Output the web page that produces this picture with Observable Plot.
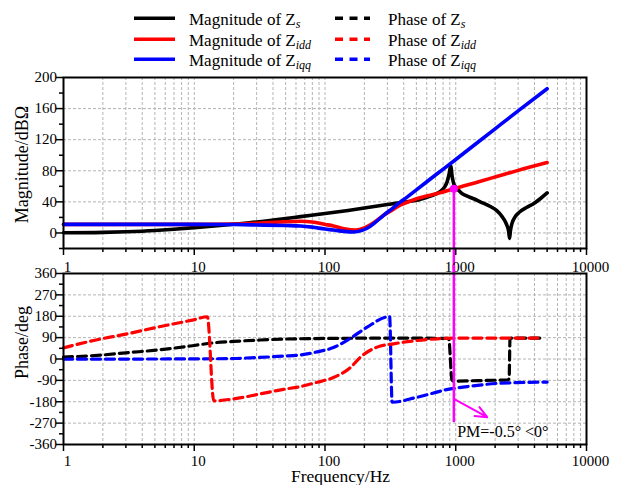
<!DOCTYPE html>
<html>
<head>
<meta charset="utf-8">
<script src="https://cdn.jsdelivr.net/npm/d3@7"></script>
<script src="https://cdn.jsdelivr.net/npm/@observablehq/plot@0.6"></script>
<style>
  body { margin: 0; background: #fff; }
  #chart { position: relative; width: 622px; height: 485px; overflow: hidden;
           font-family: "Liberation Serif", "Times New Roman", serif; }
  #chart > svg { position: absolute; left: 0; }
</style>
</head>
<body>
<div id="chart"></div>
<script>
// ---- Magnitude of the impedances (dB·Ω) against frequency (Hz) ----
const zsMagFreq = [1, 2, 3, 5, 7, 10, 15, 20, 30, 50, 65, 100, 150, 200, 300, 378, 500, 600, 700, 770,
                   820, 860, 890, 915, 940, 967, 1000, 1050, 1100, 1200, 1372, 1540, 1840, 2050, 2262,
                   2400, 2473, 2540, 2580, 2620, 2690, 2850, 3080, 3500, 3960, 4500, 5000];
const zsMagDb   = [0.2, 0.8, 1.6, 3.2, 4.8, 6.8, 9.3, 11.2, 14, 18.5, 21, 25, 29, 32, 36.5, 39.3, 42, 46, 50, 54,
                   59, 66, 76, 86, 72, 63, 59, 55, 51.5, 48, 44, 40, 34, 29, 21,
                   14, 9, 2, -7, 3, 12, 21, 27, 33, 38, 45, 51.5];

const iddMagFreq = [1, 5, 10, 20, 30, 45, 65, 80, 100, 116, 140, 171, 200, 240, 282, 330, 378, 450, 508, 600,
                    770, 967, 1500, 2000, 3000, 5000];
const iddMagDb   = [11, 11, 11, 11.5, 12.5, 14, 15, 14, 11, 9, 5.5, 3.8, 6.5, 14, 23, 30, 36, 41, 44.4, 47.5,
                    52, 57, 66, 72, 80.5, 90.5];

const iqqMagFreq = [1, 10, 20, 30, 50, 65, 80, 100, 116, 140, 165, 190, 210, 240, 282, 330, 378, 400, 500, 700,
                    1000, 2000, 3000, 5000];
const iqqMagDb   = [11, 11, 10.8, 10.3, 9.5, 9, 7.5, 5, 3.8, 2, 1.3, 3, 6, 13, 23, 32, 40, 43, 55.5, 74.5,
                    94.5, 134, 157, 185.5];

// ---- Phase of the impedances (deg) against frequency (Hz) ----
const zsPhFreq = [1, 2, 3, 5.5, 10, 14, 20, 32, 50, 100, 335, 856, 885, 935, 960, 1500, 2000, 2500, 2560, 2600, 2650, 4500];
const zsPhDeg  = [8, 17, 26, 39, 57, 68, 74, 80, 84, 86.5, 88, 87, 84, -88, -93, -91, -89.5, -88, -82, 82, 88, 88];

const iddPhFreq = [1, 1.7, 3.07, 5.53, 9.9, 12.6, 14.1, 20, 32, 48, 65, 87, 116, 157, 187, 250, 335, 508, 720, 1000, 4500];
const iddPhDeg  = [47, 78, 106, 137, 165, 178, -176, -168, -147, -128, -116, -98, -78, -35, 8, 50, 64, 78, 85, 88, 88];

const iqqPhFreq = [1, 5, 10, 20, 27, 48, 65, 87, 116, 157, 210, 290, 312, 326, 508, 910, 1230, 2200, 5000];
const iqqPhDeg  = [-1, 0, 0.5, 2, 5, 12, 17, 30, 48, 88, 134, 176, 179, -182, -161, -126, -116, -102, -97];

// ---- Crossover marker and phase-margin note ----
const crossFreq = 967;       // Hz, where |Zs| meets |Zidd|
const crossMag = 57;         // dB·Ω
const pmLabel = "PM=-0.5° <0°";

// ---- Axis ticks and labels ----
const decadeTicks = [1, 10, 100, 1000, 10000];
const minorTicks = [];
for (const d of [1, 10, 100, 1000]) for (let k = 2; k <= 9; k++) minorTicks.push(k * d);
const magTicks = [0, 40, 80, 120, 160, 200];
const magMinor = [-20, 20, 60, 100, 140, 180];
const phTicks = [-360, -270, -180, -90, 0, 90, 180, 270, 360];
const phMinor = [-315, -225, -135, -45, 45, 135, 225, 315];
const magLabel = "Magnitude/dBΩ";
const phLabel = "Phase/deg";
const freqLabel = "Frequency/Hz";

// ---- Legend entries ----
const legendMag = [["Magnitude of Z", "s", "#000000"], ["Magnitude of Z", "idd", "#ff0000"], ["Magnitude of Z", "iqq", "#0000ff"]];
const legendPh = [["Phase of Z", "s", "#000000"], ["Phase of Z", "idd", "#ff0000"], ["Phase of Z", "iqq", "#0000ff"]];

const pts = (fs, vs) => fs.map((f, i) => ({f, v: vs[i]}));
const font = "'Liberation Serif', 'Times New Roman', serif";
const MAGENTA = "#ff00ff";
const gridStyle = {stroke: "#b4b4b4", strokeOpacity: 1, strokeWidth: 1, strokeDasharray: "3,2"};
const solid = (stroke) => ({x: "f", y: "v", stroke, strokeWidth: 3.6, curve: "monotone-x"});
const dashed = (stroke) => ({x: "f", y: "v", stroke, strokeWidth: 3.2, strokeDasharray: "9,5", curve: "monotone-x"});

function axes(frameLabelPad, yMajor, yMinor) {
  const common = {label: null, strokeWidth: 1.5, stroke: "#000"};
  const labels = {label: null, fill: "#000", fontFamily: font, fontSize: 15};
  return [
    Plot.axisX(minorTicks, {...common, tickSize: 4, tickFormat: () => ""}),
    Plot.axisX(decadeTicks, {...common, tickSize: 7, tickFormat: () => ""}),
    Plot.axisX(decadeTicks, {...labels, tickSize: 0, tickPadding: frameLabelPad, dx: 4, tickFormat: d => String(d)}),
    Plot.axisY(yMinor, {...common, tickSize: 4, tickFormat: () => ""}),
    Plot.axisY(yMajor, {...common, tickSize: 7, tickFormat: () => ""}),
    Plot.axisY(yMajor, {...labels, tickSize: 0, tickPadding: 6.5, tickFormat: d => String(d)})
  ];
}

const style = {background: "transparent", fontFamily: font, fontSize: "15px", color: "#000"};
const axisTitle = {fontSize: 18, fontFamily: font, fill: "#000", textAnchor: "middle", lineAnchor: "middle"};

// Upper panel: magnitude
const magPlot = Plot.plot({
  width: 622, height: 205,
  marginLeft: 63, marginRight: 36, marginTop: 7, marginBottom: 27,
  x: {type: "log", domain: [1, 10000], axis: null},
  y: {domain: [-20, 200], axis: null},
  style,
  marks: [
    Plot.gridX(minorTicks.concat(decadeTicks), gridStyle),
    Plot.gridY(magTicks.slice(0, 5), gridStyle),
    Plot.line(pts(zsMagFreq, zsMagDb), solid("#000000")),
    Plot.line(pts(iddMagFreq, iddMagDb), solid("#ff0000")),
    Plot.line(pts(iqqMagFreq, iqqMagDb), solid("#0000ff")),
    Plot.ruleX([crossFreq], {y1: crossMag, y2: -56, stroke: MAGENTA, strokeWidth: 2.5}),
    Plot.dot([{f: crossFreq, v: crossMag}], {x: "f", y: "v", r: 4, fill: MAGENTA, stroke: "none"}),
    Plot.frame({stroke: "#000", strokeWidth: 2}),
    ...axes(13, magTicks, magMinor),
    Plot.text([magLabel], {...axisTitle, frameAnchor: "left", rotate: -90, dx: -41, dy: 1.5})
  ]
});

// Lower panel: phase
const phPlot = Plot.plot({
  width: 622, height: 220,
  marginLeft: 63, marginRight: 36, marginTop: 8, marginBottom: 41,
  x: {type: "log", domain: [1, 10000], axis: null},
  y: {domain: [-360, 360], axis: null},
  style,
  marks: [
    Plot.gridX(minorTicks.concat(decadeTicks), gridStyle),
    Plot.gridY(phTicks.slice(1, -1), gridStyle),
    Plot.line(pts(zsPhFreq, zsPhDeg), dashed("#000000")),
    Plot.line(pts(iqqPhFreq, iqqPhDeg), dashed("#0000ff")),
    Plot.line(pts(iddPhFreq, iddPhDeg), dashed("#ff0000")),
    Plot.ruleX([crossFreq], {y1: 400, y2: -268, stroke: MAGENTA, strokeWidth: 2.5}),
    Plot.arrow([{x1: crossFreq, y1: -168, x2: 1740, y2: -245}], {
      x1: "x1", y1: "y1", x2: "x2", y2: "y2", stroke: MAGENTA, strokeWidth: 2, headLength: 17, headAngle: 47
    }),
    Plot.text([{f: 1026, v: -329}], {x: "f", y: "v", text: () => pmLabel, textAnchor: "start", lineAnchor: "bottom", fontSize: 16, fontFamily: font, fill: "#000"}),
    Plot.frame({stroke: "#000", strokeWidth: 2}),
    ...axes(11, phTicks, phMinor),
    Plot.text([phLabel], {...axisTitle, frameAnchor: "left", rotate: -90, dx: -41, dy: -16.5}),
    Plot.text([freqLabel], {...axisTitle, fontSize: 17.5, frameAnchor: "bottom", dx: 15.5, dy: 37, lineAnchor: "bottom"})
  ]
});

// Legend above the panels
const legend = d3.create("svg")
  .attr("width", 622).attr("height", 72)
  .style("top", "0px")
  .attr("font-family", font);
const rowY = [18.3, 39.3, 59.3];
function legendColumn(entries, x0, x1, tx, dash) {
  entries.forEach(([text, sub, color], i) => {
    legend.append("line")
      .attr("x1", x0).attr("x2", x1).attr("y1", rowY[i]).attr("y2", rowY[i])
      .attr("stroke", color).attr("stroke-width", 3.6)
      .attr("stroke-dasharray", dash);
    const t = legend.append("text")
      .attr("x", tx).attr("y", rowY[i] + 6.5)
      .attr("font-size", 17).attr("fill", "#000");
    t.append("tspan").text(text);
    t.append("tspan").attr("font-style", "italic").attr("font-size", 12).attr("dy", 3.5).text(sub);
  });
}
legendColumn(legendMag, 134, 175, 189, null);
legendColumn(legendPh, 335, 370, 388, "8,6.5");

const chart = document.getElementById("chart");
magPlot.style.top = "70px";
phPlot.style.top = "265px";
chart.appendChild(legend.node());
chart.appendChild(magPlot);
chart.appendChild(phPlot);
</script>
</body>
</html>
